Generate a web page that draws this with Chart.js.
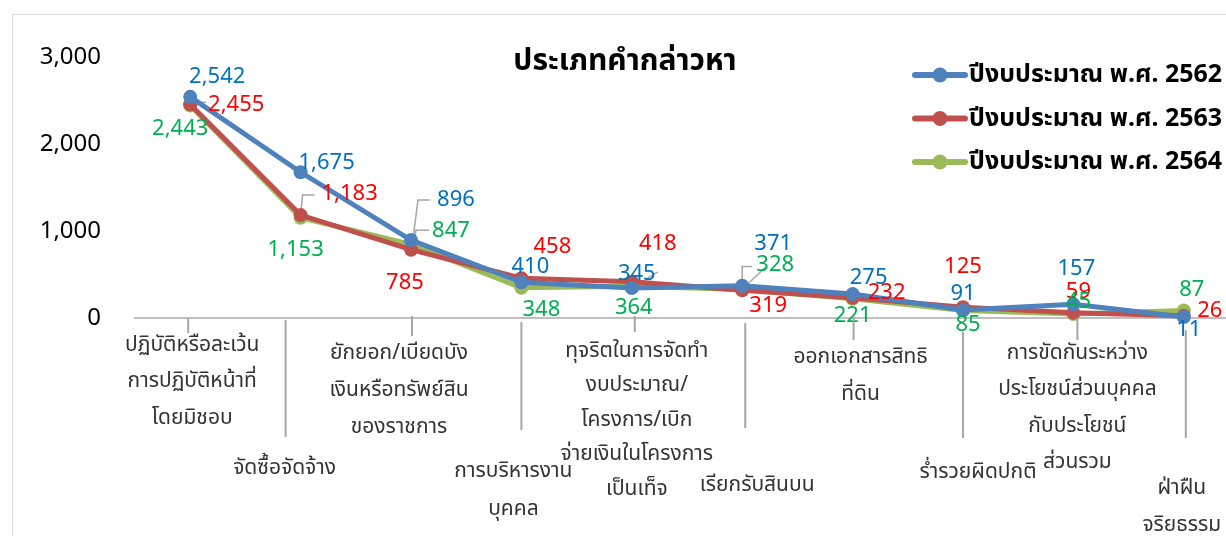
<!DOCTYPE html>
<html>
<head>
<meta charset="utf-8">
<script src="https://cdn.jsdelivr.net/npm/chart.js@4.4.1/dist/chart.umd.min.js"></script>
<style>
html,body{margin:0;padding:0;background:#fff;overflow:hidden;width:1226px;height:536px;}
#wrap{width:1250px;height:536px;position:relative;}
</style>
</head>
<body>
<div id="wrap"><canvas id="c" width="1250" height="536"></canvas></div>
<script>
const categories = [
  ["ปฏิบัติหรือละเว้น","การปฏิบัติหน้าที่","โดยมิชอบ"],
  ["จัดซื้อจัดจ้าง"],
  ["ยักยอก/เบียดบัง","เงินหรือทรัพย์สิน","ของราชการ"],
  ["การบริหารงาน","บุคคล"],
  ["ทุจริตในการจัดทำ","งบประมาณ/","โครงการ/เบิก","จ่ายเงินในโครงการ","เป็นเท็จ"],
  ["เรียกรับสินบน"],
  ["ออกเอกสารสิทธิ","ที่ดิน"],
  ["ร่ำรวยผิดปกติ"],
  ["การขัดกันระหว่าง","ประโยชน์ส่วนบุคคล","กับประโยชน์","ส่วนรวม"],
  ["ฝ่าฝืน","จริยธรรม"]
];
const seriesNames = ["ปีงบประมาณ พ.ศ. 2562","ปีงบประมาณ พ.ศ. 2563","ปีงบประมาณ พ.ศ. 2564"];
const values2562 = [2542,1675,896,410,345,371,275,91,157,11];
const values2563 = [2455,1183,785,458,418,319,232,125,59,26];
const values2564 = [2443,1153,847,348,364,328,221,85,45,87];
const yTicks = [0,1000,2000,3000];
const chartTitle = "ประเภทคำกล่าวหา";

// label placement (pixel offsets from the point), kept apart from the data
const labelOffsets = [
  [[27,-20],[26,-10],[45,-40],[9,-16],[5,-14],[31,-42],[16,-16],[0,-16],[3,-36],[5,13]],
  [[46,0],[49,-21],[-6,33],[31,-31],[26,-38],[26,15],[34,-5],[0,-40],[5,-21],[26,-5]],
  [[-10,23],[-5,32],[40,-14],[20,22],[2,21],[33,-25],[0,17],[5,14],[5,-12],[8,-21]]
];
// leader lines: [series, index, path of offsets from the point]
const leaders = [
  [1,0,[[5,-2],[16,-2]]],
  [1,1,[[0,0],[2,-20],[14,-20]]],
  [0,2,[[1,6],[7,-40],[19,-40]]],
  [2,2,[[3,-2],[5,-14],[18,-14]]],
  [0,4,[[0,0],[26,-16]]],
  [2,5,[[0,-2],[0,-23],[10,-23]]],
  [2,5,[[2,-2],[23,-22]]]
];
const labelColors = ["#0070C0","#FF0000","#00B050"];
const lineColors = ["#4F81BD","#C0504D","#9BBB59"];
// category label layout: [textDx, firstLineY, leaderDx, leaderTop, leaderBottom, lineStep]
const catLayout = [
  [2,345,-2,318,333,36.5],
  [-16,468,-15,320,437,36.5],
  [-12,353,1,316,336,37],
  [-8,471,0,322,430,38],
  [5,351,3,316,332,34.5],
  [15,485,3,323,428,36.5],
  [8,357,1,316,340,37],
  [15,472,0,332,438,36.5],
  [4,353,4,318,340,36.5],
  [-2,488,2,330,438,37]
];
const FONT = '"Noto Sans","Noto Sans Thai","Tahoma",sans-serif';

const decor = {
  id:'decor',
  beforeDraw(chart){
    const ctx = chart.ctx;
    ctx.save();
    ctx.strokeStyle = '#D9D9D9'; ctx.lineWidth = 1;
    ctx.strokeRect(12.5,14.5,1300,600);
    ctx.restore();
  },
  beforeDatasetsDraw(chart){
    const ctx = chart.ctx;
    ctx.save();
    ctx.strokeStyle = '#A6A6A6'; ctx.lineWidth = 1.5; ctx.lineCap='butt'; ctx.lineJoin='miter';
    leaders.forEach(([s,i,path])=>{
      const pt = chart.getDatasetMeta(s).data[i];
      ctx.beginPath();
      path.forEach((p,k)=>{ const x=pt.x+p[0], y=pt.y+p[1]; k?ctx.lineTo(x,y):ctx.moveTo(x,y); });
      ctx.stroke();
    });
    ctx.restore();
  },
  afterDatasetsDraw(chart){
    const ctx = chart.ctx;
    const xs = chart.scales.x;
    ctx.save();
    // title
    ctx.fillStyle = '#000';
    ctx.font = 'bold 30px ' + FONT;
    ctx.textAlign = 'center'; ctx.textBaseline = 'middle';
    ctx.fillText(chartTitle, 625, 61);
    // legend
    chart.data.datasets.forEach((ds,i)=>{
      const y = 75 + i*43.5;
      ctx.strokeStyle = ds.borderColor; ctx.lineWidth = 6; ctx.lineCap='round';
      ctx.beginPath(); ctx.moveTo(915,y); ctx.lineTo(965,y); ctx.stroke();
      ctx.fillStyle = ds.borderColor;
      ctx.beginPath(); ctx.arc(940,y,7.5,0,Math.PI*2); ctx.fill();
      ctx.fillStyle = '#000';
      ctx.font = 'bold 25px ' + FONT;
      ctx.textAlign='left'; ctx.textBaseline='middle';
      ctx.fillText(ds.label, 969, y);
    });
    // data labels
    ctx.font = '22px ' + FONT;
    ctx.textAlign='center'; ctx.textBaseline='middle';
    chart.data.datasets.forEach((ds,i)=>{
      const meta = chart.getDatasetMeta(i);
      meta.data.forEach((pt,j)=>{
        const off = labelOffsets[i][j];
        ctx.fillStyle = labelColors[i];
        ctx.fillText(ds.data[j].toLocaleString('en-US'), pt.x+off[0], pt.y+off[1]);
      });
    });
    // category labels
    ctx.font = '21px ' + FONT;
    categories.forEach((lines,j)=>{
      const cx = xs.getPixelForValue(j);
      const L = catLayout[j];
      ctx.strokeStyle = '#A6A6A6'; ctx.lineWidth = 2; ctx.lineCap='butt';
      ctx.beginPath(); ctx.moveTo(cx+L[2],L[3]); ctx.lineTo(cx+L[2],L[4]); ctx.stroke();
      ctx.fillStyle = '#333333';
      lines.forEach((t,k)=>{ ctx.fillText(t, cx+L[0], L[1]+k*L[5]); });
    });
    ctx.restore();
  }
};

const mk = (i,data)=>({
  label: seriesNames[i], data: data,
  borderColor: lineColors[i], backgroundColor: lineColors[i],
  borderWidth: 5, pointRadius: 7, pointHoverRadius: 7, pointBorderWidth:0,
  tension: 0, clip: false
});

new Chart(document.getElementById('c'), {
  type:'line',
  data:{ labels: categories.map(c=>c.join(' ')), datasets:[mk(0,values2562),mk(1,values2563),mk(2,values2564)] },
  options:{
    responsive:false, animation:false,
    layout:{ padding:{ left:0, right:11, top:57, bottom:218 } },
    plugins:{ legend:{display:false}, title:{display:false}, tooltip:{enabled:false} },
    scales:{
      x:{ offset:true,
        grid:{ display:false, drawTicks:false },
        border:{ display:true, color:'#BFBFBF', width:2 },
        ticks:{ display:false }
      },
      y:{ min:0, max:3000,
        afterBuildTicks(ax){ ax.ticks = yTicks.map(v=>({value:v})); },
        afterFit(ax){ ax.width = 135; },
        grid:{ display:false, drawTicks:false },
        border:{ display:false },
        ticks:{ padding:34, color:'#000', font:{ size:24, family:FONT },
          callback:(v)=>v.toLocaleString('en-US') }
      }
    }
  },
  plugins:[decor]
});
</script>
</body>
</html>
